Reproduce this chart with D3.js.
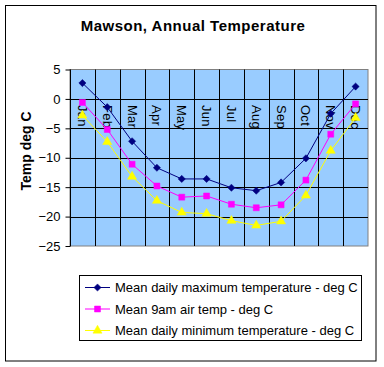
<!DOCTYPE html>
<html><head><meta charset="utf-8">
<script src="https://cdn.jsdelivr.net/npm/d3@7"></script>
<style>body{margin:0;background:#fff}svg{display:block;font-family:Arial,"Liberation Sans",sans-serif}</style>
</head><body><svg id="c" width="384" height="367"></svg>
<script>
const months = ["Jan","Feb","Mar","Apr","May","Jun","Jul","Aug","Sep","Oct","Nov","Dec"];
const maxTemp = [2.7,-1.4,-7.2,-11.7,-13.6,-13.6,-15.1,-15.6,-14.2,-10.1,-2.5,2.1];
const am9Temp = [-0.6,-5.2,-11.1,-14.8,-16.7,-16.5,-17.9,-18.5,-18.0,-13.8,-6.0,-0.85];
const minTemp = [-2.8,-7.3,-13.2,-17.3,-19.3,-19.5,-20.7,-21.5,-20.8,-16.4,-8.8,-3.2];
const yTicks = [5,0,-5,-10,-15,-20,-25];
const seriesNames = ["Mean daily maximum temperature - deg C","Mean 9am air temp - deg C","Mean daily minimum temperature - deg C"];

const squareDiamond = { draw(ctx, size) { const r = Math.sqrt(size/2); ctx.moveTo(0,-r); ctx.lineTo(r,0); ctx.lineTo(0,r); ctx.lineTo(-r,0); ctx.closePath(); } };

const series = [
  {name: seriesNames[0], values: maxTemp, color: "#000080", marker: squareDiamond, size: 26},
  {name: seriesNames[1], values: am9Temp, color: "#FF00FF", marker: d3.symbolSquare, size: 36},
  {name: seriesNames[2], values: minTemp, color: "#FFFF00", marker: d3.symbolTriangle, size: 36}
];

const svg = d3.select("#c");
const L = 70, R = 368, T = 69.5, B = 246;
const x = d3.scaleBand().domain(months).range([L, R]);
const y = d3.scaleLinear().domain([-25, 5]).range([B, T]);

// outer frame
svg.append("rect").attr("x",5.5).attr("y",5.5).attr("width",370.5).attr("height",355.5)
  .attr("fill","#fff").attr("stroke","#000");

// title
svg.append("text").attr("x",193).attr("y",31).attr("text-anchor","middle")
  .attr("font-size",15).attr("letter-spacing",0.5).attr("font-weight","bold").text("Mawson, Annual Temperature");

// plot area
svg.append("rect").attr("x",L).attr("y",T).attr("width",R-L).attr("height",B-T)
  .attr("fill","#99CCFF").attr("stroke","#808080");

// horizontal gridlines
svg.append("g").selectAll("line").data(yTicks.filter(d=>d!==-25 && d!==5)).join("line")
  .attr("x1",L).attr("x2",R).attr("y1",d=>Math.round(y(d))+0.5).attr("y2",d=>Math.round(y(d))+0.5)
  .attr("stroke","#000");
// vertical gridlines
svg.append("g").selectAll("line").data(months.slice(1)).join("line")
  .attr("x1",d=>Math.round(x(d))+0.5).attr("x2",d=>Math.round(x(d))+0.5).attr("y1",T).attr("y2",B)
  .attr("stroke","#000");

// y axis
const yAxis = d3.axisLeft(y).tickValues(yTicks).tickSize(5).tickPadding(4).tickFormat(d3.format("d"));
const gy = svg.append("g").attr("transform",`translate(${L+0.5},0)`).call(yAxis);
gy.select(".domain").remove();
gy.selectAll(".tick line").attr("stroke","#000");
gy.selectAll("text").attr("font-size",13).attr("font-family","Arial, 'Liberation Sans', sans-serif").attr("fill","#000")
  .attr("dx",-1);
svg.append("line").attr("x1",L+0.5).attr("x2",L+0.5).attr("y1",T).attr("y2",B).attr("stroke","#000");

// category labels rotated
svg.append("g").selectAll("text").data(months).join("text")
  .attr("transform",d=>`translate(${x(d)+x.bandwidth()/2-4.5},${y(0)+6}) rotate(90)`)
  .attr("font-size",13).attr("letter-spacing",0.3).attr("text-anchor","start").text(d=>d);

// y axis title
svg.append("text").attr("transform",`translate(31,151) rotate(-90)`).attr("text-anchor","middle")
  .attr("font-size",14).attr("font-weight","bold").text("Temp deg C");

// series
const cx = d => x(d) + x.bandwidth()/2;
series.forEach(s => {
  const line = d3.line().x((v,i)=>cx(months[i])).y(v=>y(v));
  svg.append("path").attr("d",line(s.values)).attr("fill","none").attr("stroke",s.color).attr("stroke-width",1);
  svg.append("g").selectAll("path").data(s.values).join("path")
    .attr("transform",(v,i)=>`translate(${cx(months[i])},${y(v)})`)
    .attr("d",d3.symbol().type(s.marker).size(s.size)).attr("fill",s.color).attr("stroke",s.color).attr("stroke-width",0.5);
});

// legend
svg.append("rect").attr("x",79.5).attr("y",275.5).attr("width",282).attr("height",65)
  .attr("fill","#fff").attr("stroke","#000");
const lg = svg.append("g").selectAll("g").data(series).join("g")
  .attr("transform",(d,i)=>`translate(0,${287 + i*21.5})`);
lg.append("line").attr("x1",85).attr("x2",110).attr("y1",0.5).attr("y2",0.5).attr("stroke",d=>d.color);
lg.append("path").attr("transform","translate(97.5,0.5)").attr("d",d=>d3.symbol().type(d.marker).size(d.size)())
  .attr("fill",d=>d.color).attr("stroke",d=>d.color).attr("stroke-width",0.5);
lg.append("text").attr("x",115).attr("y",5).attr("font-size",13).text(d=>d.name);
</script></body></html>
